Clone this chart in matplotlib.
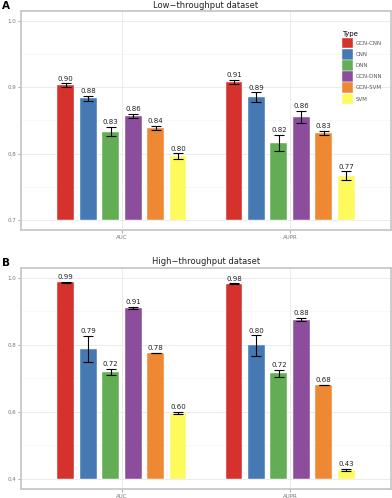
import numpy as np
import matplotlib.pyplot as plt

# data
metrics = ['AUC', 'AUPR']
models = ['GCN-CNN', 'CNN', 'DNN', 'GCN-DNN', 'GCN-SVM', 'SVM']
colors = ['#D6322D', '#4479B4', '#63AD55', '#8C4E9C', '#EE8833', '#FDFB5B']

low_auc = [0.903, 0.8836, 0.8333, 0.8567, 0.8388, 0.7966]
low_auc_sd = [0.003, 0.004, 0.007, 0.003, 0.003, 0.004]
low_aupr = [0.9085, 0.8855, 0.816, 0.8557, 0.8313, 0.7667]
low_aupr_sd = [0.003, 0.007, 0.012, 0.009, 0.0035, 0.0065]

high_auc = [0.986, 0.788, 0.7194, 0.9104, 0.776, 0.596]
high_auc_sd = [0.001, 0.038, 0.009, 0.003, 0.001, 0.0035]
high_aupr = [0.982, 0.798, 0.7155, 0.8755, 0.6797, 0.4278]
high_aupr_sd = [0.001, 0.03, 0.01, 0.005, 0.001, 0.003]

W, H = 392, 498
fig = plt.figure(figsize=(W / 100, H / 100), dpi=100)


def panel(rect, auc, auc_sd, aupr, aupr_sd, ylim, yticks, title, letter, legend):
    ax = fig.add_axes(rect)
    vals = np.array([auc, aupr])
    sds = np.array([auc_sd, aupr_sd])
    slot = 0.8 / len(models)
    base = ylim[0] + (ylim[1] - ylim[0]) * 0.05 / 1.1
    for j, m in enumerate(models):
        x = np.arange(1, len(metrics) + 1) + (j - 2.5) * slot
        ax.bar(x, vals[:, j] - base, bottom=base, width=0.1, color=colors[j],
               edgecolor='white', linewidth=0.3, label=m, zorder=2)
        ax.errorbar(x, vals[:, j], yerr=sds[:, j], fmt='none', ecolor='black',
                    elinewidth=0.8, capsize=3.5, capthick=0.8, zorder=3)
        for xi, v, s in zip(x, vals[:, j], sds[:, j]):
            ax.annotate(f'{v:.2f}', (xi, v + s), xytext=(0, 1.2),
                        textcoords='offset points', ha='center', va='bottom',
                        fontsize=5, color='#222222', zorder=4)
    ax.set_xlim(0.4, 2.6)
    ax.set_ylim(*ylim)
    ax.set_xticks([1, 2])
    ax.set_xticklabels(metrics)
    ax.set_yticks(yticks)
    ax.set_yticklabels([f'{t:.1f}' for t in yticks])
    ax.set_yticks(np.array(yticks[:-1]) + (yticks[1] - yticks[0]) / 2, minor=True)
    ax.grid(True, which='major', color='#EBEBEB', linewidth=0.7, zorder=0)
    ax.grid(True, which='minor', axis='y', color='#F5F5F5', linewidth=0.5, zorder=0)
    ax.set_axisbelow(True)
    ax.tick_params(axis='both', labelsize=4, colors='#999999', labelcolor='#777777',
                   length=2, width=0.6, pad=1.5)
    ax.tick_params(which='minor', length=0)
    for sp in ax.spines.values():
        sp.set_color('#C8C8C8')
        sp.set_linewidth(1.3)
    ax.set_title(title, fontsize=6, color='#222222', pad=2.5)
    fig.text(2 / W, rect[1] + rect[3] + 5 / H, letter, fontsize=7.5,
             fontweight='bold', va='center', ha='left')
    if legend:
        leg = ax.legend(loc='upper left', bbox_to_anchor=(0.868, 0.907), frameon=False,
                        fontsize=4, title='Type', title_fontsize=5,
                        handlelength=1.9, handleheight=2.55, handletextpad=0.5,
                        labelspacing=0.1, borderaxespad=0, borderpad=0)
        leg._legend_box.align = 'left'
        for t in leg.get_texts():
            t.set_color('#555555')
    return ax


panel([21 / W, 1 - 230 / H, 370 / W, 219 / H], low_auc, low_auc_sd, low_aupr, low_aupr_sd,
      (0.685, 1.015), [0.7, 0.8, 0.9, 1.0], 'Low\u2212throughput dataset', 'A', True)
panel([21 / W, 1 - 489 / H, 370 / W, 221.3 / H], high_auc, high_auc_sd, high_aupr, high_aupr_sd,
      (0.37, 1.03), [0.4, 0.6, 0.8, 1.0], 'High\u2212throughput dataset', 'B', False)

fig.savefig('out.png', dpi=100)
